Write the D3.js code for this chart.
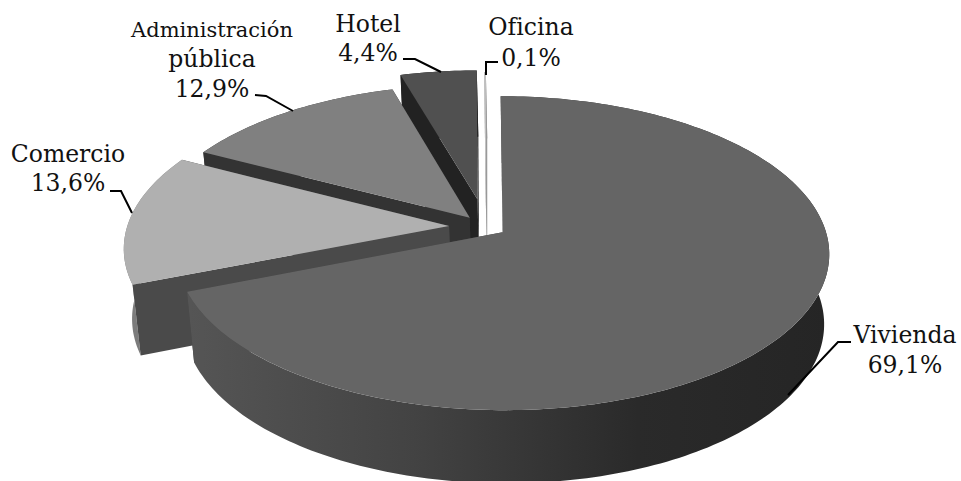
<!DOCTYPE html>
<html lang="es">
<head>
  <meta charset="UTF-8">
  <title>pie 3d</title>
  <style>
    html, body { margin: 0; padding: 0; background: #fff; overflow: hidden; }
    text { font-family: "DejaVu Serif", serif; fill: #111; text-anchor: middle; }
    .leader { fill: none; stroke: #000; stroke-width: 2; }
  </style>
</head>
<body>
  <svg width="961" height="481"></svg>
  <script src="https://cdn.jsdelivr.net/npm/d3@7"></script>
  <script>
    var categories = ["Vivienda", "Comercio", "Administración pública", "Hotel", "Oficina"];
    var values = [69.1, 13.6, 12.9, 4.4, 0.1];
    var explosion = [0.062, 0.115, 0.08, 0.187, 0.17];

    var topColors = ["#656565", "#b0b0b0", "#808080", "#505050", "#c4c4c4"];
    var cutColors = ["#444444", "#4a4a4a", "#333333", "#222222", "#999999"];
    var wallColors = ["url(#wall)", "#7c7c7c", "#333333", "#222222", "#999999"];

    var svg = d3.select("svg");

    // perspective of the pie plane
    var centerX = 486, centerY = 227, persp = 0.132;
    var x = d3.scaleLinear().domain([0, 1]).range([centerX, centerX + 322]);
    var y = d3.scaleLinear().domain([0, 1]).range([centerY, centerY - 152.8]);

    // h = 0 top face, h = 1 bottom face
    function project(u, v, h) {
      var w = 1 + persp * v,
        px = x(u / w),
        py = y(v / w);
      if (h) {
        px = 560 + (px - 560) * 0.981;
        py = centerY + (py - centerY) * 1.02 + 69.5;
      }
      return [px, py];
    }

    var defs = svg.append("defs");
    var grad = defs.append("linearGradient")
      .attr("id", "wall")
      .attr("gradientUnits", "userSpaceOnUse")
      .attr("x1", 190).attr("x2", 830).attr("y1", 0).attr("y2", 0);
    [[0, "#555555"], [0.35, "#434343"], [0.7, "#2a2a2a"], [1, "#252525"]].forEach(function(s) {
      grad.append("stop").attr("offset", s[0]).attr("stop-color", s[1]);
    });

    // the labels add up to 100,1 so keep each slice at its printed share
    var pie = d3.pie().sort(null).endAngle(2 * Math.PI * d3.sum(values) / 100)(values);
    var line = d3.line();

    function drawSlice(d) {
      var i = d.index,
        mid = (d.startAngle + d.endAngle) / 2,
        ox = explosion[i] * Math.sin(mid),
        oy = explosion[i] * Math.cos(mid);

      var steps = Math.max(2, Math.ceil((d.endAngle - d.startAngle) / 0.02));
      var rim = d3.range(steps + 1).map(function(s) {
        var t = d.startAngle + (d.endAngle - d.startAngle) * s / steps;
        return [ox + Math.sin(t), oy + Math.cos(t)];
      });
      var g = svg.append("g").attr("class", "slice");

      function pt(h) { return function(p) { return project(p[0], p[1], h); }; }
      function cut(p) {
        g.append("path")
          .attr("d", line([project(ox, oy, 0), project(p[0], p[1], 0), project(p[0], p[1], 1), project(ox, oy, 1)]) + "Z")
          .attr("fill", cutColors[i]);
      }

      cut(rim[rim.length - 1]);

      // outer wall
      g.append("path")
        .attr("d", line(rim.map(pt(0)).concat(rim.slice().reverse().map(pt(1)))) + "Z")
        .attr("fill", wallColors[i]);

      cut(rim[0]);

      // top face
      g.append("path")
        .attr("d", line([project(ox, oy, 0)].concat(rim.map(pt(0)))) + "Z")
        .attr("fill", topColors[i]);
    }

    // back slices first, Vivienda last
    pie.slice().reverse().forEach(drawSlice);

    // leader lines
    var leaders = [
      [[851, 342], [838, 342], [788, 395]],
      [[110, 191], [121, 191], [132, 213]],
      [[255, 95], [266, 96], [293, 111]],
      [[403, 59], [415, 59], [441, 72]],
      [[498, 62], [486, 62], [486, 75]]
    ];
    svg.selectAll(".leader").data(leaders).enter().append("path")
      .attr("class", "leader")
      .attr("d", function(d) { return line(d); });

    // labels
    function pct(v) { return v.toFixed(1).replace(".", ",") + "%"; }
    var labels = [
      {x: 905, lines: [[categories[0], 343, 23.5], [pct(values[0]), 373, 23.5]]},
      {x: 68, lines: [[categories[1], 162, 23.5], [pct(values[1]), 191, 23.5]]},
      {x: 212, lines: [["Administración", 37, 21], ["pública", 67, 23.5], [pct(values[2]), 97, 23.5]]},
      {x: 368, lines: [[categories[3], 32, 23.5], [pct(values[3]), 61, 23.5]]},
      {x: 531, lines: [[categories[4], 35, 23.5], [pct(values[4]), 66, 23.5]]}
    ];
    labels.forEach(function(l) {
      l.lines.forEach(function(t) {
        svg.append("text").attr("x", l.x).attr("y", t[1]).style("font-size", t[2] + "px").text(t[0]);
      });
    });
  </script>
</body>
</html>
